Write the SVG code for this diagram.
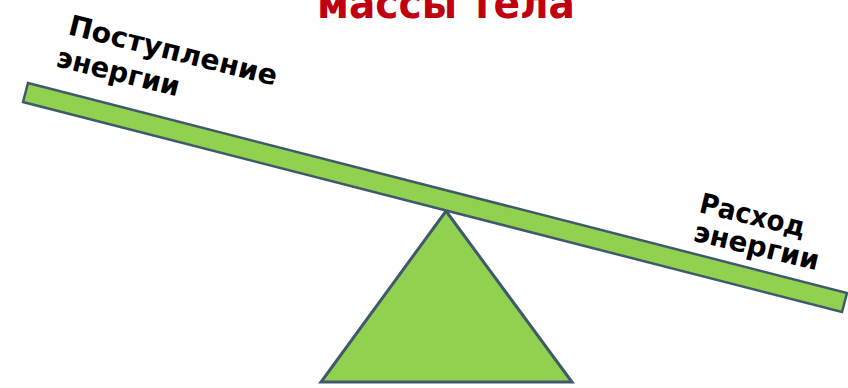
<svg xmlns="http://www.w3.org/2000/svg" width="848" height="388" viewBox="0 0 848 388">
<style>
.shape{fill:#92d050;stroke:#3e5a6c;stroke-linejoin:miter}
.lbl{font-family:"DejaVu Sans","Noto Sans",sans-serif;font-weight:bold;font-size:28px;fill:#000}
.title{font-family:"DejaVu Sans","Noto Sans",sans-serif;font-weight:bold;font-size:42px;fill:#c00010}
</style>
<rect width="848" height="388" fill="#fff"/>
<g id="title">
<text class="title" x="317" y="18" textLength="258" lengthAdjust="spacingAndGlyphs">массы тела</text>
</g>
<g id="fulcrum">
<polygon class="shape" stroke-width="3" points="446,211 572,382 321,382"/>
</g>
<g id="beam">
<polygon class="shape" stroke-width="2.5" points="28,83 847,293 842,312 23,102"/>
</g>
<g id="label-left" transform="translate(67,34) rotate(14)">
<text class="lbl" x="0" y="0" textLength="214" lengthAdjust="spacingAndGlyphs">Поступление</text>
<text class="lbl" x="-4" y="34" textLength="126" lengthAdjust="spacingAndGlyphs">энергии</text>
</g>
<g id="label-right" transform="translate(698,212) rotate(13.5)">
<text class="lbl" x="0" y="0" textLength="108" lengthAdjust="spacingAndGlyphs">Расход</text>
<text class="lbl" x="1" y="29" textLength="128" lengthAdjust="spacingAndGlyphs">энергии</text>
</g>
<g id="connectors"/>
</svg>
